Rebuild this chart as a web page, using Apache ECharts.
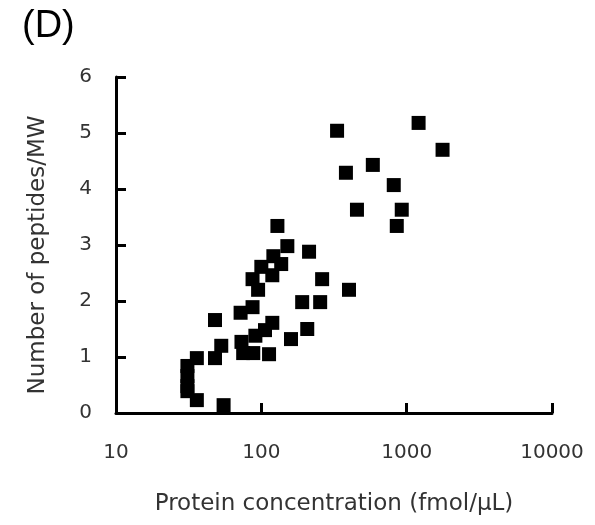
<!DOCTYPE html>
<html>
<head>
<meta charset="utf-8">
<script src="https://cdn.jsdelivr.net/npm/echarts@6/dist/echarts.min.js"></script>
<style>html,body{margin:0;padding:0;background:#fff}#c{width:595px;height:525px}</style>
</head>
<body>
<div id="c"></div>
<script>
// Protein concentration (fmol/μL)
var concentration = [1208, 332, 1766, 585, 382, 815, 455, 925, 855, 129,
  151, 213, 121, 137, 100, 119, 87, 262, 95, 401,
  191, 254, 87, 72, 48, 119, 207, 106, 91, 160,
  73, 53, 75, 88, 113, 36, 48, 31, 31, 31,
  31, 36, 55];
// Number of peptides/MW
var peptides = [5.18, 5.04, 4.70, 4.43, 4.29, 4.07, 3.63, 3.63, 3.34, 3.34,
  2.98, 2.88, 2.80, 2.66, 2.61, 2.46, 2.39, 2.39, 2.20, 2.20,
  1.98, 1.98, 1.89, 1.79, 1.66, 1.61, 1.50, 1.48, 1.38, 1.32,
  1.27, 1.20, 1.07, 1.07, 1.05, 0.98, 0.98, 0.84, 0.66, 0.48,
  0.39, 0.23, 0.14];
var xTicks = [10, 100, 1000, 10000];
var yTicks = [0, 1, 2, 3, 4, 5, 6];

var points = concentration.map(function (c, i) { return [c, peptides[i]]; });

var chart = echarts.init(document.getElementById('c'), null, {renderer: 'canvas'});
var font = 'DejaVu Sans';
chart.setOption({
  animation: false,
  backgroundColor: '#fff',
  title: {
    text: '(D)', left: 17, top: 3,
    textStyle: {fontFamily: 'Liberation Sans', fontSize: 38, fontWeight: 'normal', color: '#000'}
  },
  grid: {left: 116, right: 43, top: 77, bottom: 112, containLabel: false, outerBoundsMode: 'none'},
  xAxis: {
    type: 'log', logBase: 10, min: xTicks[0], max: xTicks[xTicks.length - 1],
    name: 'Protein concentration (fmol/μL)', nameLocation: 'middle', nameGap: 80,
    nameTextStyle: {fontFamily: font, fontSize: 23, color: '#333'},
    axisLine: {show: true, onZero: false, lineStyle: {color: '#000', width: 3}},
    axisTick: {show: true, inside: true, length: 10, lineStyle: {color: '#000', width: 3}},
    axisLabel: {margin: 30, fontFamily: font, fontSize: 20, color: '#333',
      formatter: function (v) { return String(Math.round(v)); }},
    splitLine: {show: false}, minorTick: {show: false}
  },
  yAxis: {
    type: 'value', min: yTicks[0], max: yTicks[yTicks.length - 1], interval: 1,
    name: 'Number of peptides/MW', nameLocation: 'middle', nameGap: 66, nameRotate: 90,
    nameTextStyle: {fontFamily: font, fontSize: 23, color: '#333', padding: [0, 20, 0, 0]},
    axisLine: {show: true, lineStyle: {color: '#000', width: 3}},
    axisTick: {show: true, inside: true, length: 10, lineStyle: {color: '#000', width: 3}},
    axisLabel: {margin: 24, fontFamily: font, fontSize: 20, color: '#333'},
    splitLine: {show: false}
  },
  series: [{
    type: 'scatter', data: points, symbol: 'rect', symbolSize: 14,
    itemStyle: {color: '#000', opacity: 1}
  }]
});
</script>
</body>
</html>
